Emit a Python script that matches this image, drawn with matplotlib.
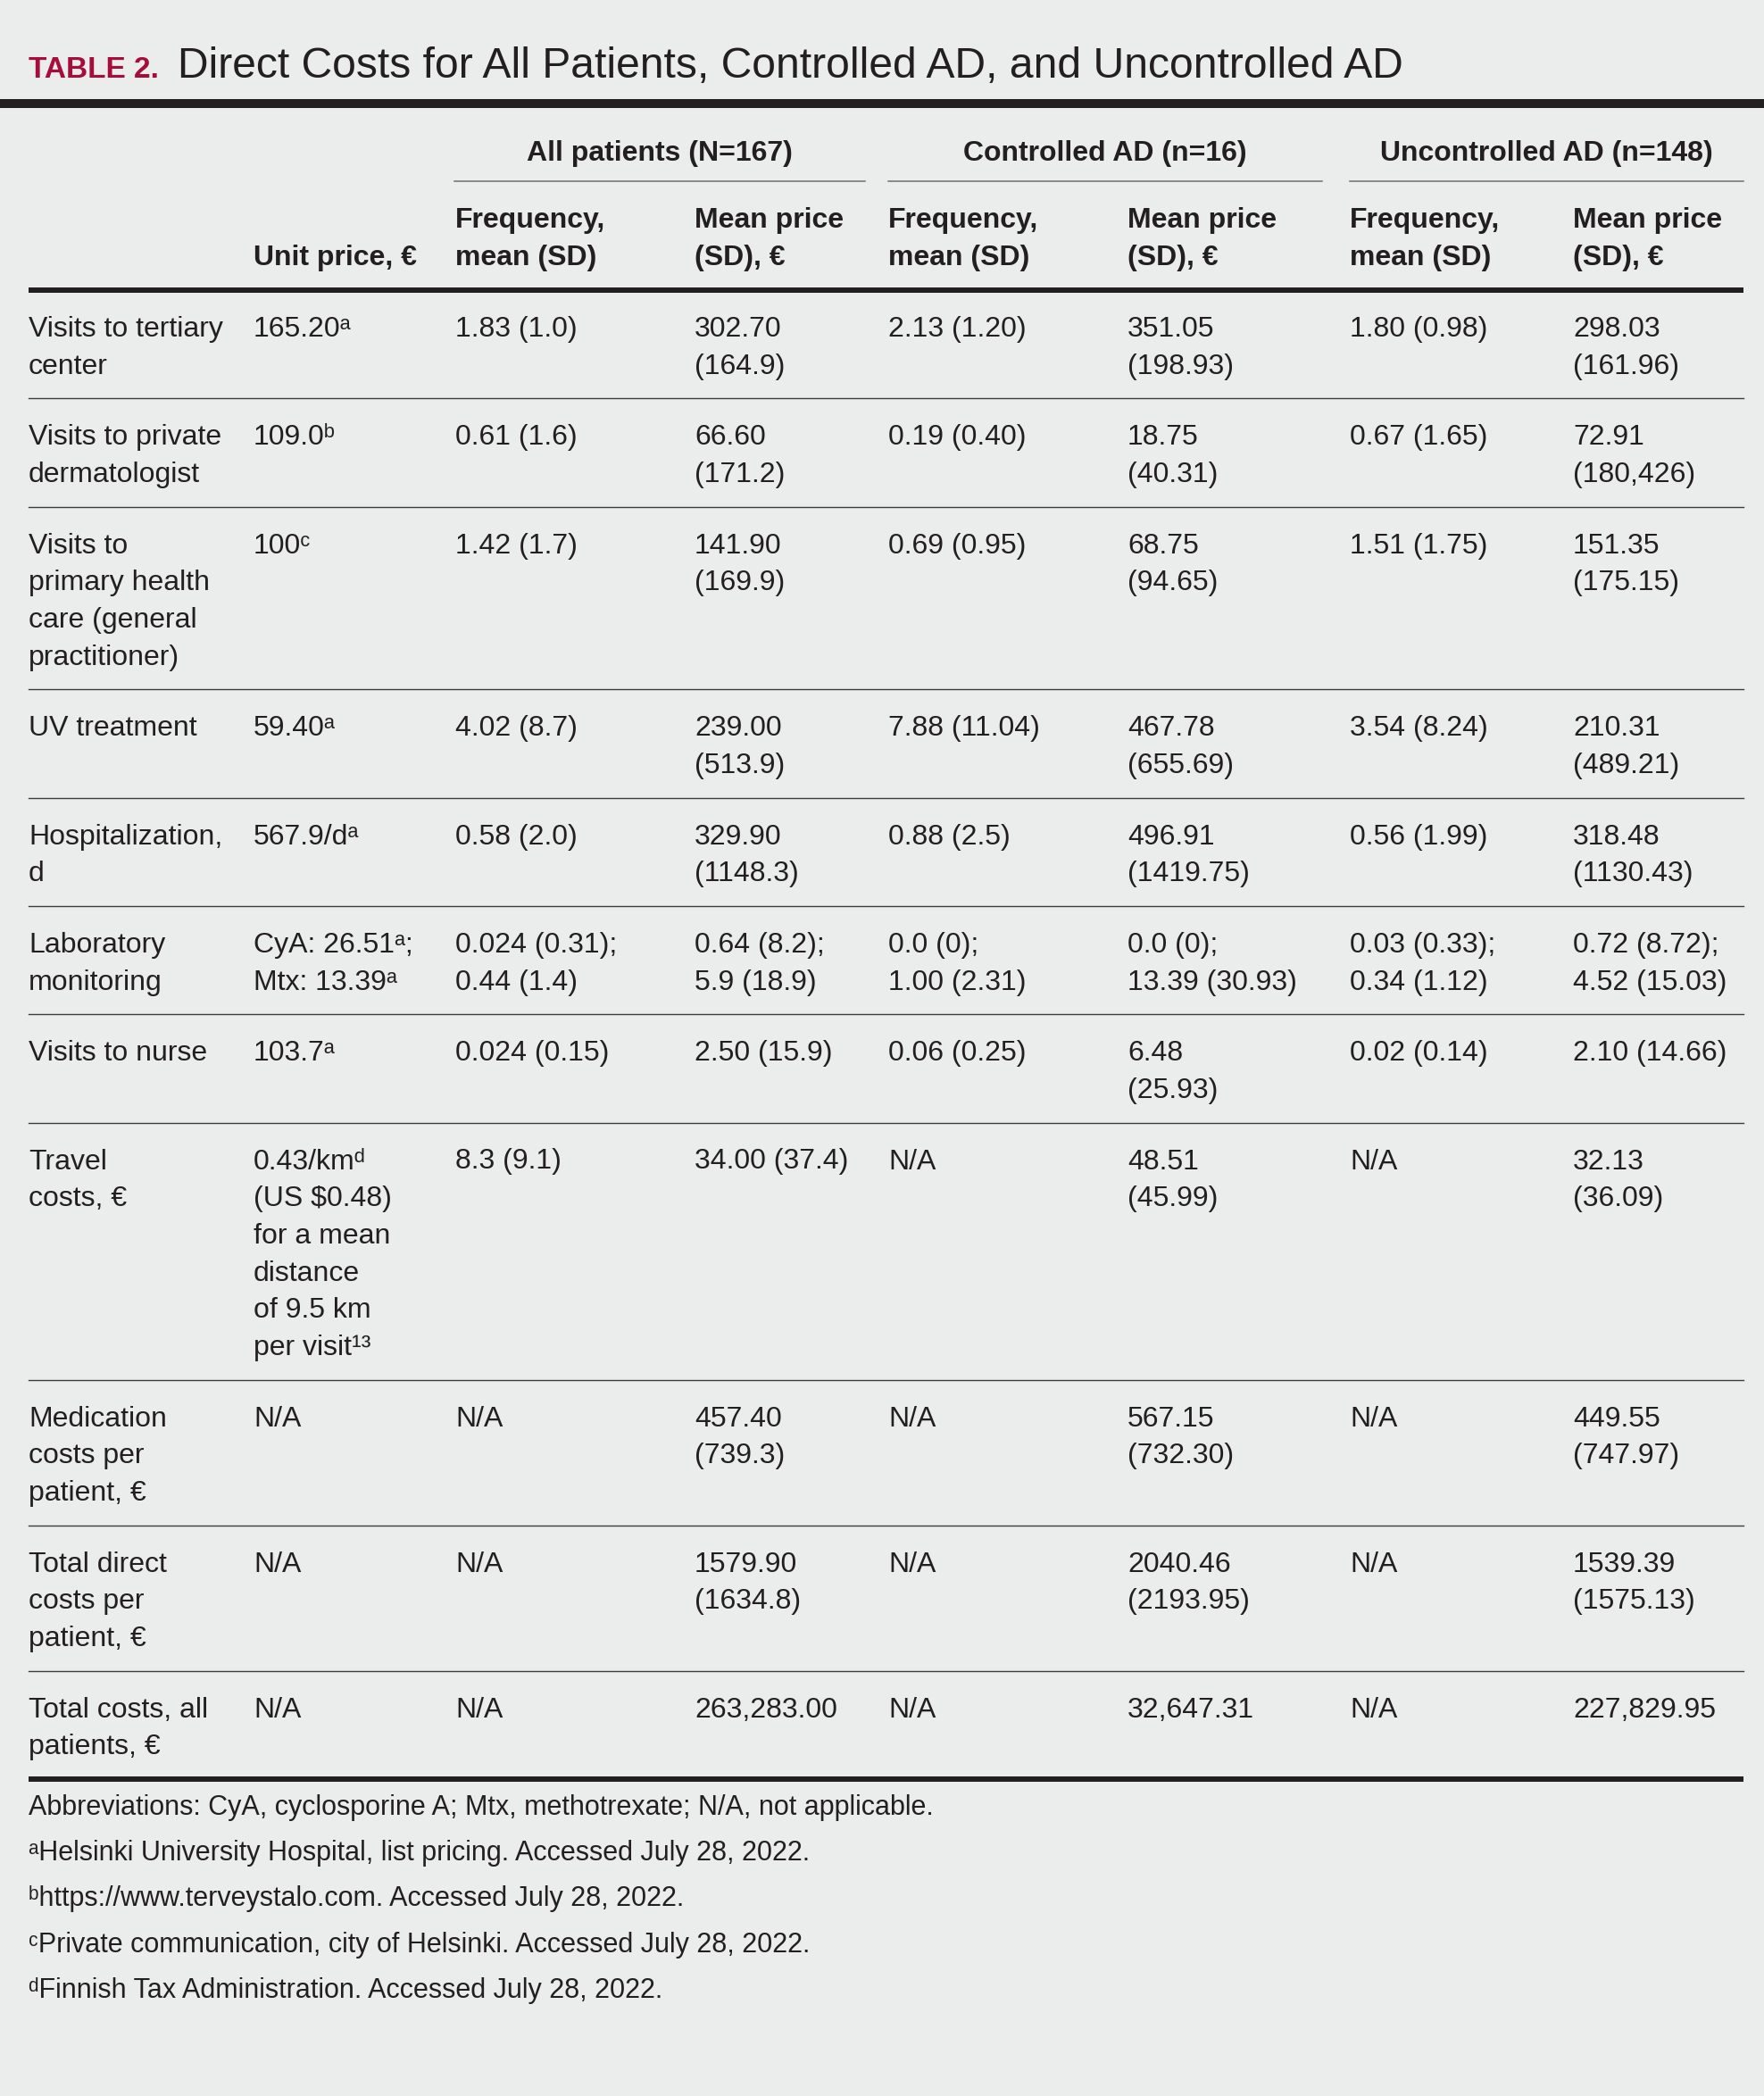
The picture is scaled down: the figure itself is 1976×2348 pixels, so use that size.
import matplotlib
matplotlib.use("Agg")
import matplotlib.pyplot as plt

# -- Data --
title_tag = "TABLE 2."
title = "Direct Costs for All Patients, Controlled AD, and Uncontrolled AD"
groups = ["All patients (N=167)", "Controlled AD (n=16)", "Uncontrolled AD (n=148)"]
sub_headers = ["", "Unit price, €", "Frequency,\nmean (SD)", "Mean price\n(SD), €",
               "Frequency,\nmean (SD)", "Mean price\n(SD), €",
               "Frequency,\nmean (SD)", "Mean price\n(SD), €"]

labels = ["Visits to tertiary\ncenter", "Visits to private\ndermatologist",
          "Visits to\nprimary health\ncare (general\npractitioner)", "UV treatment",
          "Hospitalization,\nd", "Laboratory\nmonitoring", "Visits to nurse",
          "Travel\ncosts, €", "Medication\ncosts per\npatient, €",
          "Total direct\ncosts per\npatient, €", "Total costs, all\npatients, €"]
unit_price = ["165.20ᵃ", "109.0ᵇ", "100ᶜ", "59.40ᵃ", "567.9/dᵃ",
              "CyA: 26.51ᵃ;\nMtx: 13.39ᵃ", "103.7ᵃ",
              "0.43/kmᵈ\n(US $0.48)\nfor a mean\ndistance\nof 9.5 km\nper visit¹³",
              "N/A", "N/A", "N/A"]
all_freq = ["1.83 (1.0)", "0.61 (1.6)", "1.42 (1.7)", "4.02 (8.7)", "0.58 (2.0)",
            "0.024 (0.31);\n0.44 (1.4)", "0.024 (0.15)", "8.3 (9.1)", "N/A", "N/A", "N/A"]
all_price = ["302.70\n(164.9)", "66.60\n(171.2)", "141.90\n(169.9)", "239.00\n(513.9)",
             "329.90\n(1148.3)", "0.64 (8.2);\n5.9 (18.9)", "2.50 (15.9)", "34.00 (37.4)",
             "457.40\n(739.3)", "1579.90\n(1634.8)", "263,283.00"]
ctrl_freq = ["2.13 (1.20)", "0.19 (0.40)", "0.69 (0.95)", "7.88 (11.04)", "0.88 (2.5)",
             "0.0 (0);\n1.00 (2.31)", "0.06 (0.25)", "N/A", "N/A", "N/A", "N/A"]
ctrl_price = ["351.05\n(198.93)", "18.75\n(40.31)", "68.75\n(94.65)", "467.78\n(655.69)",
              "496.91\n(1419.75)", "0.0 (0);\n13.39 (30.93)", "6.48\n(25.93)",
              "48.51\n(45.99)", "567.15\n(732.30)", "2040.46\n(2193.95)", "32,647.31"]
unc_freq = ["1.80 (0.98)", "0.67 (1.65)", "1.51 (1.75)", "3.54 (8.24)", "0.56 (1.99)",
            "0.03 (0.33);\n0.34 (1.12)", "0.02 (0.14)", "N/A", "N/A", "N/A", "N/A"]
unc_price = ["298.03\n(161.96)", "72.91\n(180,426)", "151.35\n(175.15)", "210.31\n(489.21)",
             "318.48\n(1130.43)", "0.72 (8.72);\n4.52 (15.03)", "2.10 (14.66)",
             "32.13\n(36.09)", "449.55\n(747.97)", "1539.39\n(1575.13)", "227,829.95"]

footnotes = ["Abbreviations: CyA, cyclosporine A; Mtx, methotrexate; N/A, not applicable.",
             "ᵃHelsinki University Hospital, list pricing. Accessed July 28, 2022.",
             "ᵇhttps://www.terveystalo.com. Accessed July 28, 2022.",
             "ᶜPrivate communication, city of Helsinki. Accessed July 28, 2022.",
             "ᵈFinnish Tax Administration. Accessed July 28, 2022."]

columns = [labels, unit_price, all_freq, all_price, ctrl_freq, ctrl_price, unc_freq, unc_price]

# -- Layout --
W, H = 1976, 2348
bg = "#ebecec"
ink = "#231f20"
fam = ["Liberation Sans", "DejaVu Sans"]
col_x = [32, 284, 510, 778, 995, 1263, 1512, 1762]
group_span = [(509, 969), (995, 1481), (1512, 1953)]
left, right = 32, 1953
body_size = 23
line_gap = 41.7

fig = plt.figure(figsize=(W / 100, H / 100), dpi=100, facecolor=bg)
ax = fig.add_axes([0, 0, 1, 1])
ax.set_xlim(0, W)
ax.set_ylim(H, 0)
ax.axis("off")
ax.set_facecolor(bg)

# -- Title --
ax.text(32, 87, title_tag, color="#a50e3c", fontsize=24, fontweight="bold",
        family=fam, va="baseline", ha="left")
ax.text(199, 87, title, color=ink, fontsize=34.6, family=fam, va="baseline", ha="left")
ax.plot([0, W], [116, 116], color=ink, lw=7.2, solid_capstyle="butt")

# -- Header --
for (x0, x1), g in zip(group_span, groups):
    ax.text((x0 + x1) / 2, 180, g, color=ink, fontsize=body_size, fontweight="bold",
            family=fam, ha="center", va="baseline")
    ax.plot([x0, x1], [203, 203], color="#6d6e70", lw=1.1)

for x, h in zip(col_x, sub_headers):
    lines = h.split("\n")
    for i, ln in enumerate(reversed(lines)):
        ax.text(x, 297 - 42 * i, ln, color=ink, fontsize=body_size, fontweight="bold",
                family=fam, ha="left", va="baseline")
ax.plot([left, right], [325, 325], color=ink, lw=4.3, solid_capstyle="butt")

# -- Body --
y = 325
for r in range(len(labels)):
    cells = [c[r] for c in columns]
    n = max(len(c.split("\n")) for c in cells)
    for x, c in zip(col_x, cells):
        for i, ln in enumerate(c.split("\n")):
            ax.text(x, y + 52 + line_gap * i, ln, color=ink, fontsize=body_size,
                    family=fam, ha="left", va="baseline")
    y += 37.9 + line_gap * n
    if r < len(labels) - 1:
        ax.plot([left, right], [y, y], color="#3c3c3c", lw=1.0)
    else:
        ax.plot([left, right], [y, y], color=ink, lw=4.3, solid_capstyle="butt")

# -- Footnotes --
for i, f in enumerate(footnotes):
    ax.text(32, 2033 + 51.2 * i, f, color=ink, fontsize=22, family=fam,
            ha="left", va="baseline")

fig.savefig("out.png", dpi=100, facecolor=bg)
